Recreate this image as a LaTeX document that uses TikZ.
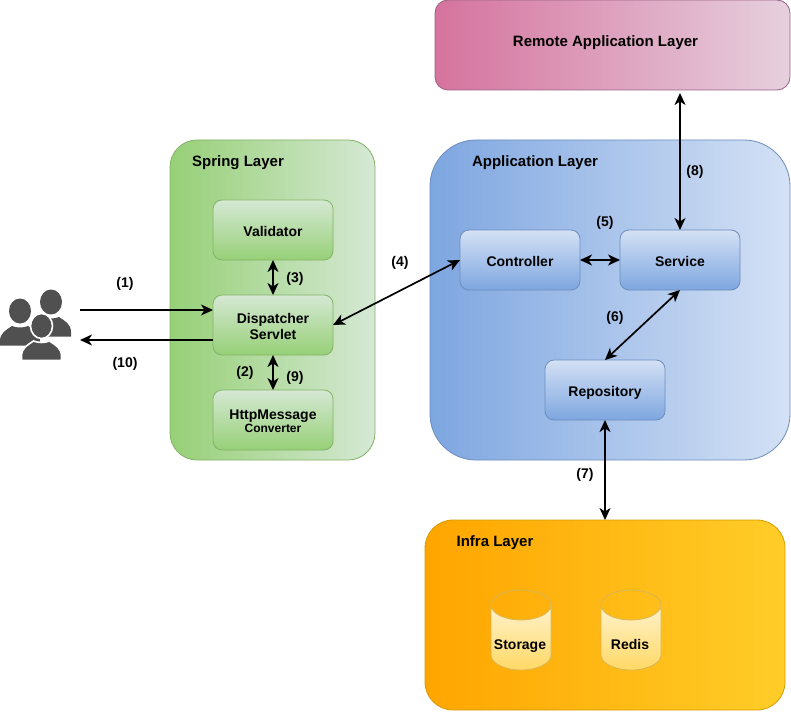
\documentclass[tikz,border=0pt]{standalone}
\usepackage{fontspec}
\setmainfont{Liberation Sans}
\usetikzlibrary{arrows.meta}
\definecolor{gA}{HTML}{97D077}\definecolor{gB}{HTML}{D5E8D4}\definecolor{gS}{HTML}{82B366}
\definecolor{bA}{HTML}{7EA6E0}\definecolor{bB}{HTML}{D4E1F5}\definecolor{bS}{HTML}{6C8EBF}
\definecolor{pA}{HTML}{D5739D}\definecolor{pB}{HTML}{E6D0DE}\definecolor{pS}{HTML}{996185}
\definecolor{oA}{HTML}{FFA500}\definecolor{oB}{HTML}{FFCD28}\definecolor{oS}{HTML}{D79B00}
\definecolor{yA}{HTML}{FFF2CC}\definecolor{yB}{HTML}{FFD966}\definecolor{yS}{HTML}{D6B656}
\definecolor{userc}{HTML}{505050}
\newcommand{\upstrut}{\rule{0pt}{16pt}}
\newcommand{\dnstrut}{\rule[-4pt]{0pt}{4pt}}
\newcommand{\personicon}[3][none]{%
  \filldraw[fill=userc,draw=#1,line width=1.6pt] (#2,#3) ellipse[x radius=11,y radius=12.5];
  \filldraw[fill=userc,draw=#1,line width=1.6pt]
    (#2-20,#3+34.5) -- (#2-20,#3+30) .. controls (#2-20,#3+22) and (#2-14,#3+19) .. (#2-8,#3+15)
    .. controls (#2-3,#3+17) and (#2+3,#3+17) .. (#2+8,#3+15)
    .. controls (#2+14,#3+19) and (#2+20,#3+22) .. (#2+20,#3+30) -- (#2+20,#3+34.5) -- cycle;
}
\tikzset{
  bt/.style={font=\fontsize{14}{16}\selectfont\bfseries,text=black},
  titlefont/.style={font=\fontsize{15}{17}\selectfont\bfseries,text=black,inner sep=0pt},
  layer/.style={draw,inner sep=0pt,outer sep=0pt,line width=0.8pt},
  springlayer/.style={layer,draw=gS,left color=gA,right color=gB,rounded corners=27pt,minimum width=205pt,minimum height=320pt},
  applayer/.style={layer,draw=bS,left color=bA,right color=bB,rounded corners=46pt,minimum width=360pt,minimum height=320pt},
  remotelayer/.style={layer,draw=pS,left color=pA,right color=pB,rounded corners=13pt,minimum width=355pt,minimum height=90pt},
  infralayer/.style={layer,draw=oS,left color=oA,right color=oB,rounded corners=28pt,minimum width=360pt,minimum height=190pt},
  innerbox/.style={layer,rounded corners=9pt,minimum width=120pt,minimum height=60pt,align=center,bt},
  greenbox/.style={innerbox,draw=gS,top color=gB,bottom color=gA},
  bluebox/.style={innerbox,draw=bS,top color=bB,bottom color=bA},
  link/.style={line width=1.7pt,draw=black},
  both/.style={link,{Stealth[length=12pt,width=11pt,inset=3.5pt]}-{Stealth[length=12pt,width=11pt,inset=3.5pt]}},
  single/.style={link,-{Stealth[length=12pt,width=11pt,inset=3.5pt]}},
  cyl/.style={draw=yS,line width=0.8pt,top color=yA,bottom color=yB},
  lbl/.style={bt,inner sep=0pt}
}
\begin{document}
\begin{tikzpicture}[x=1pt,y=-1pt]
\useasboundingbox (0,0) rectangle (791,711);
% layers
\node[remotelayer] (remote) at (612.5,45) {};
\node[springlayer] (spring) at (272.5,300) {};
\node[applayer] (app) at (610,300) {};
\node[infralayer] (infra) at (605,615) {};
\node[titlefont] (remotet) at (605.5,41) {\upstrut Remote Application Layer\dnstrut};
\node[titlefont] (springt) at (238,161) {\upstrut Spring Layer\dnstrut};
\node[titlefont] (appt) at (535,161) {\upstrut Application Layer\dnstrut};
\node[titlefont] (infrat) at (495,540.5) {\upstrut Infra Layer\dnstrut};
% inner boxes
\node[greenbox] (validator) at (273,230) {\upstrut Validator\dnstrut};
\node[greenbox] (dispatcher) at (273,325) {\upstrut Dispatcher\\Servlet\dnstrut};
\node[greenbox] (converter) at (273,420) {\upstrut HttpMessage\\[-2.3pt]{\fontsize{12}{13}\selectfont Converter}\dnstrut};
\node[bluebox] (controller) at (520,260) {\upstrut Controller\dnstrut};
\node[bluebox] (service) at (680,260) {\upstrut Service\dnstrut};
\node[bluebox] (repository) at (605,390) {\upstrut Repository\dnstrut};
% cylinders
\draw[cyl] (491,605) arc[start angle=180,end angle=0,x radius=30,y radius=15]
  -- (551,655) arc[start angle=0,end angle=180,x radius=30,y radius=15] -- cycle;
\draw[yS,line width=0.8pt] (491,605) arc[start angle=180,end angle=360,x radius=30,y radius=15];
\draw[cyl] (601,605) arc[start angle=180,end angle=0,x radius=30,y radius=15]
  -- (661,655) arc[start angle=0,end angle=180,x radius=30,y radius=15] -- cycle;
\draw[yS,line width=0.8pt] (601,605) arc[start angle=180,end angle=360,x radius=30,y radius=15];
\node[lbl] (storage) at (520,643.5) {\upstrut Storage\dnstrut};
\node[lbl] (redis) at (630,643.5) {\upstrut Redis\dnstrut};
% users
\personicon{51}{302}
\personicon{20}{311}
\personicon[white]{41.5}{326}
\coordinate (userin) at (80,310);
\coordinate (userout) at (80,340);
\coordinate (dispin) at (dispatcher.west |- userin);
\coordinate (dispout) at (dispatcher.west |- userout);
\coordinate (remotegap) at (680,93);
% connectors
\draw[single] (userin) -- (dispin);
\draw[single] (dispout) -- (userout);
\draw[both] (validator.south) -- (dispatcher.north);
\draw[both] (dispatcher.south) -- (converter.north);
\draw[both] (dispatcher.east) -- (controller.west);
\draw[both] (controller.east) -- (service.west);
\draw[both] (service.north) -- (remotegap);
\draw[both] (service.south) -- (repository.north);
\draw[both] (repository.south) -- (infra.north);
% labels
\node[lbl] (l1) at (125,281) {\upstrut(1)\dnstrut};
\node[lbl] (l10) at (125,361) {\upstrut(10)\dnstrut};
\node[lbl] (l3) at (295,276) {\upstrut(3)\dnstrut};
\node[lbl] (l2) at (245,370) {\upstrut(2)\dnstrut};
\node[lbl] (l9) at (295,375) {\upstrut(9)\dnstrut};
\node[lbl] (l4) at (400,260) {\upstrut(4)\dnstrut};
\node[lbl] (l5) at (605,220) {\upstrut(5)\dnstrut};
\node[lbl] (l8) at (695,170) {\upstrut(8)\dnstrut};
\node[lbl] (l6) at (615,315) {\upstrut(6)\dnstrut};
\node[lbl] (l7) at (585,472) {\upstrut(7)\dnstrut};
\end{tikzpicture}
\end{document}
